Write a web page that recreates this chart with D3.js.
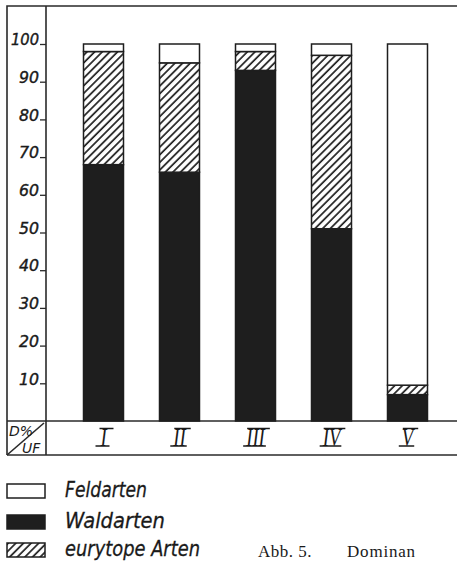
<!DOCTYPE html>
<html>
<head>
<meta charset="utf-8">
<script src="https://cdn.jsdelivr.net/npm/d3@7"></script>
<style>
  body { margin: 0; background: #fff; }
  svg { display: block; }
  .lettering { font-family: "DejaVu Sans", sans-serif; font-style: italic; fill: #1a1a1a; }
</style>
</head>
<body>
<div id="chart"></div>
<script>
// Dominanz (D%) je Untersuchungsflaeche (UF)
var categories = ["I", "II", "III", "IV", "V"];
var waldarten = [68, 66, 93, 51, 7];
var eurytope = [30, 29, 5, 46, 2.5];
var feldarten = [2, 5, 2, 3, 90.5];
var yTicks = [10, 20, 30, 40, 50, 60, 70, 80, 90, 100];
var legendNames = ["Feldarten", "Waldarten", "eurytope Arten"];

var width = 457, height = 576;
var ink = "#1e1e1e";

var svg = d3.select("#chart").append("svg")
    .attr("width", width)
    .attr("height", height);

// hatch pattern for eurytope Arten
var defs = svg.append("defs");
defs.append("pattern")
    .attr("id", "hatch")
    .attr("patternUnits", "userSpaceOnUse")
    .attr("width", 5.4)
    .attr("height", 5.4)
    .attr("patternTransform", "rotate(45)")
    .call(function (p) {
        p.append("rect").attr("width", 5.4).attr("height", 5.4).attr("fill", "#fff");
        p.append("line").attr("x1", 1).attr("y1", 0).attr("x2", 1).attr("y2", 5.4)
            .attr("stroke", ink).attr("stroke-width", 1.7);
    });

var fills = { wald: ink, eury: "url(#hatch)", feld: "#fff" };

var y = d3.scaleLinear().domain([0, 100]).range([421, 44]);
var x = d3.scaleBand().domain(categories).range([47.5, 463.5]).padding(0.4737);

var table = categories.map(function (c, i) {
    return { cat: c, wald: waldarten[i], eury: eurytope[i], feld: feldarten[i] };
});
var series = d3.stack().keys(["wald", "eury", "feld"])(table);

// frame
var frame = svg.append("g").attr("stroke", "#2a2a2a").attr("stroke-width", 1.6).attr("fill", "none");
frame.append("path").attr("d", "M7,455 V6 H457");
frame.append("line").attr("x1", 46).attr("x2", 46).attr("y1", 6).attr("y2", 455);
frame.append("line").attr("x1", 7).attr("x2", 457).attr("y1", y(0)).attr("y2", y(0));
frame.append("line").attr("x1", 7).attr("x2", 457).attr("y1", 455).attr("y2", 455);
frame.append("line").attr("x1", 7).attr("x2", 44).attr("y1", 455).attr("y2", 423);

// y axis
var yAxis = svg.append("g")
    .attr("transform", "translate(46,0)")
    .call(d3.axisLeft(y).tickValues(yTicks).tickSize(6).tickPadding(2));
yAxis.attr("font-size", null);
yAxis.select(".domain").remove();
yAxis.selectAll(".tick line").attr("stroke", "#2a2a2a").attr("stroke-width", 1.3);
yAxis.selectAll(".tick text")
    .attr("class", "lettering")
    .attr("dy", "0.05em")
    .attr("x", -7)
    .style("font-size", "15px")
    .attr("textLength", function (d) { return d === 100 ? 28 : 20; })
    .attr("lengthAdjust", "spacingAndGlyphs")
    .attr("stroke", "#1a1a1a")
    .attr("stroke-width", 0.4)
    .attr("fill", "#1a1a1a");

// bars
svg.append("g").selectAll("g")
    .data(series)
    .join("g")
    .attr("fill", function (d) { return fills[d.key]; })
    .selectAll("rect")
    .data(function (d) { return d; })
    .join("rect")
    .attr("x", function (d) { return x(d.data.cat); })
    .attr("width", x.bandwidth())
    .attr("y", function (d) { return y(d[1]); })
    .attr("height", function (d) { return y(d[0]) - y(d[1]); })
    .attr("stroke", ink)
    .attr("stroke-width", 1.5);

// category labels: roman numerals with bars above and below
var catLabels = svg.append("g").selectAll("g")
    .data(categories)
    .join("g")
    .attr("transform", function (d) { return "translate(" + (x(d) + x.bandwidth() / 2) + ",0)"; });
catLabels.append("text")
    .attr("y", 446)
    .attr("text-anchor", "middle")
    .attr("transform", "scale(0.72,1)")
    .style("font-family", "'Liberation Serif', serif")
    .style("font-style", "italic")
    .style("font-size", "26px")
    .attr("fill", "#1a1a1a")
    .text(function (d) { return d; })
    .each(function (d) {
        var w = this.getComputedTextLength() * 0.72;
        var g = d3.select(this.parentNode);
        var half = Math.max(w / 2 + 2, 7);
        g.append("line").attr("x1", -half - 1).attr("x2", half - 1).attr("y1", 446).attr("y2", 446)
            .attr("stroke", "#1a1a1a").attr("stroke-width", 1.5);
        g.append("line").attr("x1", -half + 3).attr("x2", half + 3).attr("y1", 428.5).attr("y2", 428.5)
            .attr("stroke", "#1a1a1a").attr("stroke-width", 1.5);
    });

// D% / UF corner
svg.append("text").attr("class", "lettering").attr("x", 9).attr("y", 436)
    .style("font-size", "14px").text("D%");
svg.append("text").attr("class", "lettering").attr("x", 22).attr("y", 453)
    .style("font-size", "14px").text("UF");

// legend
var legendY = [484, 515, 543];
var legendKeys = ["feld", "wald", "eury"];
var legendW = [82, 100, 135];
var legend = svg.append("g").selectAll("g")
    .data(legendNames)
    .join("g")
    .attr("transform", function (d, i) { return "translate(7," + legendY[i] + ")"; });
legend.append("rect")
    .attr("width", 38).attr("height", 14)
    .attr("fill", function (d, i) { return fills[legendKeys[i]]; })
    .attr("stroke", ink).attr("stroke-width", 1.5);
legend.append("text")
    .attr("class", "lettering")
    .attr("x", 58).attr("y", 13)
    .style("font-size", "21px")
    .attr("stroke", "#1a1a1a")
    .attr("stroke-width", 0.3)
    .attr("textLength", function (d, i) { return legendW[i]; })
    .attr("lengthAdjust", "spacingAndGlyphs")
    .text(function (d) { return d; });

// caption (only its start is visible in the original)
svg.append("text")
    .attr("x", 258).attr("y", 557)
    .style("font-family", "'Liberation Serif', serif")
    .style("font-size", "17px")
    .style("letter-spacing", "0.5px")
    .attr("fill", "#1a1a1a")
    .text("Abb. 5.");
svg.append("text")
    .attr("x", 347).attr("y", 557)
    .style("font-family", "'Liberation Serif', serif")
    .style("font-size", "17px")
    .style("letter-spacing", "0.8px")
    .attr("fill", "#1a1a1a")
    .text("Dominan");
</script>
</body>
</html>
